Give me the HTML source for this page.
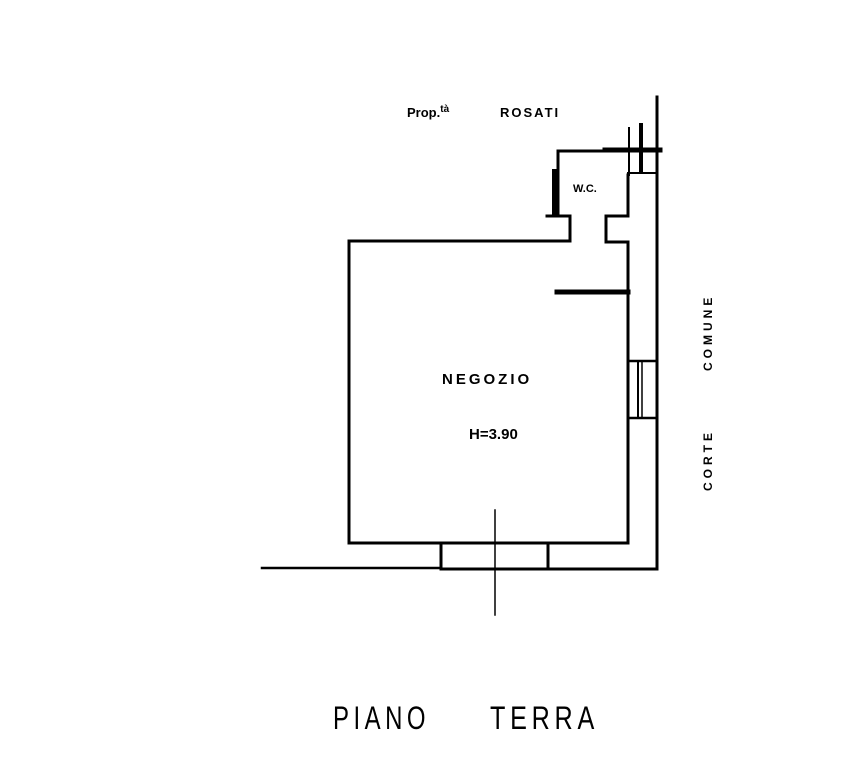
<!DOCTYPE html>
<html><head><meta charset="utf-8"><style>
html,body{margin:0;padding:0;background:#fff;}
svg{display:block;}
text{font-family:"Liberation Sans",sans-serif;fill:#000;}
</style></head><body>
<svg width="848" height="763" viewBox="0 0 848 763" xmlns="http://www.w3.org/2000/svg">
<g stroke="#000" fill="none" stroke-linecap="square">
  <!-- outer right line -->
  <line x1="657" y1="97" x2="657" y2="569" stroke-width="3"/>
  <!-- bottom outer line -->
  <line x1="262" y1="568" x2="441" y2="568" stroke-width="2.5"/>
  <line x1="441" y1="569" x2="657" y2="569" stroke-width="3"/>
  <!-- left wall, top wall -->
  <polyline points="349,543 349,241 570,241 570,216 547,216" stroke-width="3"/>
  <!-- WC left wall and top -->
  <polyline points="558,216 558,151 657,151" stroke-width="3"/>
  <line x1="555" y1="172" x2="555" y2="213" stroke-width="6"/>
  <line x1="605" y1="150" x2="660" y2="150" stroke-width="5"/>
  <!-- corner verticals -->
  <line x1="629" y1="128" x2="629" y2="175" stroke-width="2"/>
  <line x1="641" y1="125" x2="641" y2="172" stroke-width="4"/>
  <line x1="628" y1="173" x2="657" y2="173" stroke-width="2"/>
  <!-- WC right wall -->
  <polyline points="628,175 628,216 606,216 606,242 628,242 628,543 349,543" stroke-width="3"/>
  <!-- partition -->
  <line x1="557" y1="292" x2="628" y2="292" stroke-width="5"/>
  <!-- window on right -->
  <line x1="628" y1="361" x2="657" y2="361" stroke-width="2.5"/>
  <line x1="628" y1="418" x2="657" y2="418" stroke-width="2.5"/>
  <line x1="638" y1="361" x2="638" y2="418" stroke-width="2"/>
  <line x1="642" y1="361" x2="642" y2="418" stroke-width="1.5"/>
  <!-- door at bottom -->
  <line x1="441" y1="543" x2="441" y2="569" stroke-width="3"/>
  <line x1="548" y1="543" x2="548" y2="569" stroke-width="3"/>
  <line x1="441" y1="543" x2="548" y2="543" stroke-width="1.5"/>
  <!-- cross -->
  <line x1="495" y1="510" x2="495" y2="615" stroke-width="1.5"/>
</g>
<text x="407" y="117" font-size="13" font-weight="bold">Prop.<tspan font-size="10" dy="-5">tà</tspan></text>
<text x="500" y="117" font-size="13" font-weight="bold" letter-spacing="2">ROSATI</text>
<text x="573" y="192" font-size="11" font-weight="bold">W.C.</text>
<text x="442" y="384" font-size="15" font-weight="bold" letter-spacing="3">NEGOZIO</text>
<text x="469" y="439" font-size="15" font-weight="bold">H=3.90</text>
<text transform="translate(712,491) rotate(-90)" font-size="12" font-weight="bold" letter-spacing="4">CORTE</text>
<text transform="translate(712,371) rotate(-90)" font-size="12" font-weight="bold" letter-spacing="4">COMUNE</text>
<text x="333" y="729" font-size="32" letter-spacing="6" transform="scale(1,1)" textLength="97" lengthAdjust="spacingAndGlyphs">PIANO</text>
<text x="490" y="729" font-size="32" letter-spacing="6" textLength="109" lengthAdjust="spacingAndGlyphs">TERRA</text>
</svg>
</body></html>
